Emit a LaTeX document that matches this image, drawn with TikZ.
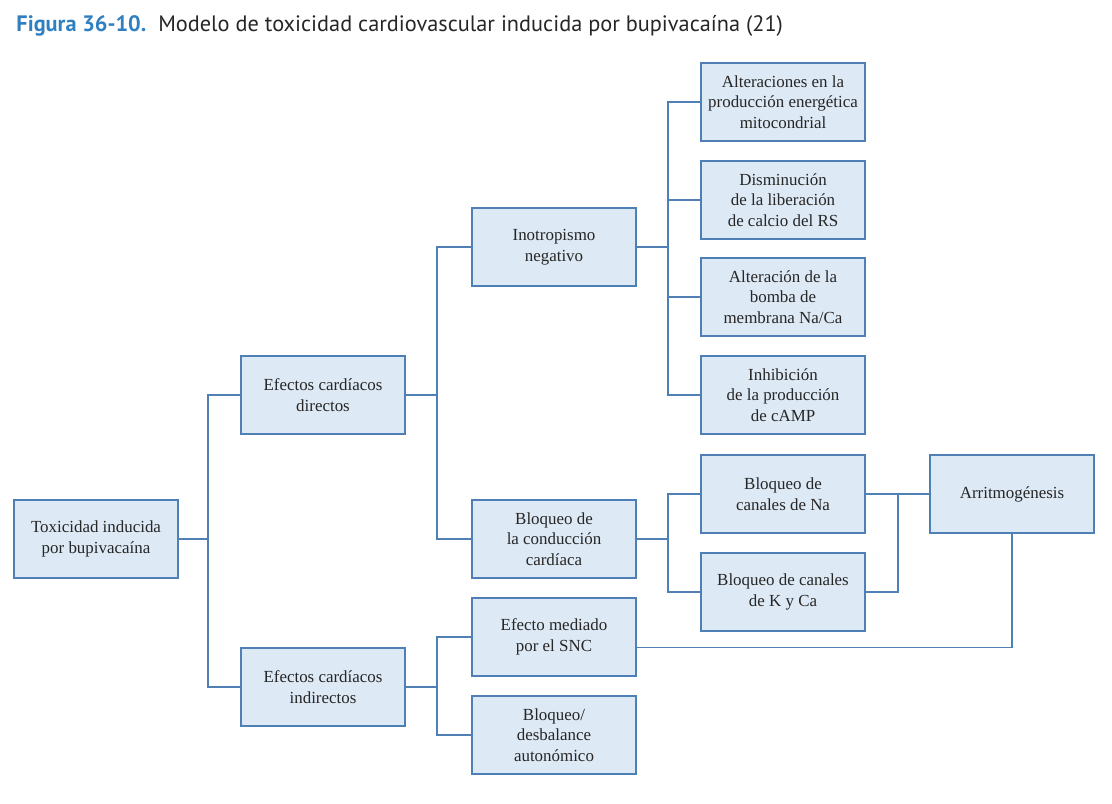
\documentclass[tikz,border=0pt]{standalone}
\usepackage{fontspec}
\newfontfamily\titlefont{PT Sans}
\newfontfamily\cajonfont{Liberation Serif}
\definecolor{boxblue}{HTML}{4E7FB5}
\definecolor{boxfill}{HTML}{DDE9F5}
\definecolor{titleblue}{HTML}{2F7FC1}
\definecolor{texto}{HTML}{262626}
\tikzset{
  cajon/.style={draw=boxblue,fill=boxfill,line width=1pt,align=center,
    minimum width=106.5pt,minimum height=50.5pt,inner sep=2pt,text=texto,
    font=\cajonfont\fontsize{11}{13.5}\selectfont},
  enlace/.style={draw=boxblue,line width=0.9pt}
}

\begin{document}
\begin{tikzpicture}[x=0.65pt,y=-0.65pt]
      \useasboundingbox (0,0) rectangle (1112,803);
      \node[anchor=west,text=texto,font=\titlefont\fontsize{14.5}{16}\selectfont] (titulo) at (11,26)
        {\textcolor{titleblue}{\bfseries Figura 36-10.}\ \ Modelo de toxicidad cardiovascular inducida por bupivacaína (21)};
      % primer nivel
      \node[cajon] (tox) at (96,539) {Toxicidad inducida\\por bupivacaína};
      \node[cajon] (efd) at (323,395) {Efectos cardíacos\\directos};
      \node[cajon] (efi) at (323,687) {Efectos cardíacos\\indirectos};
      % segundo nivel
      \node[cajon] (ino) at (554,247) {Inotropismo\\negativo};
      \node[cajon] (blc) at (554,539) {Bloqueo de\\la conducción\\cardíaca};
      \node[cajon] (snc) at (554,637) {Efecto mediado\\por el SNC};
      \node[cajon] (aut) at (554,735) {Bloqueo/\\desbalance\\autonómico};
      % tercer nivel
      \node[cajon] (mito) at (783,102) {Alteraciones en la\\producción energética\\mitocondrial};
      \node[cajon] (cal) at (783,200) {Disminución\\de la liberación\\de calcio del RS};
      \node[cajon] (nca) at (783,297) {Alteración de la\\bomba de\\membrana Na/Ca};
      \node[cajon] (camp) at (783,395) {Inhibición\\de la producción\\de cAMP};
      \node[cajon] (bna) at (783,494) {Bloqueo de\\canales de Na};
      \node[cajon] (bkc) at (783,592) {Bloqueo de canales\\de K y Ca};
      \node[cajon] (arr) at (1012,494) {Arritmogénesis};
      % barras de union
      \coordinate (busA) at (208,539);
      \coordinate (busB) at (437,395);
      \coordinate (busC) at (437,687);
      \coordinate (busD) at (668,247);
      \coordinate (busE) at (668,539);
      \coordinate (busF) at (898,494);
      \draw[enlace] (tox.east) -- (tox.east -| busA);
      \draw[enlace] (efd.west) -| (busA) |- (efi.west);
      \draw[enlace] (efd.east) -- (efd.east -| busB);
      \draw[enlace] (ino.west) -| (busB) |- (blc.west);
      \draw[enlace] (efi.east) -- (efi.east -| busC);
      \draw[enlace] (snc.west) -| (busC) |- (aut.west);
      \draw[enlace] (ino.east) -- (ino.east -| busD);
      \draw[enlace] (mito.west) -| (busD) |- (camp.west);
      \draw[enlace] (cal.west) -- (cal.west -| busD);
      \draw[enlace] (nca.west) -- (nca.west -| busD);
      \draw[enlace] (blc.east) -- (blc.east -| busE);
      \draw[enlace] (bna.west) -| (busE) |- (bkc.west);
      \draw[enlace] (bna.east) -- (arr.west);
      \draw[enlace] (bkc.east) -| (busF);
      \draw[enlace] ([yshift=-7pt]snc.east) -| (arr.south);
\end{tikzpicture}
\end{document}
